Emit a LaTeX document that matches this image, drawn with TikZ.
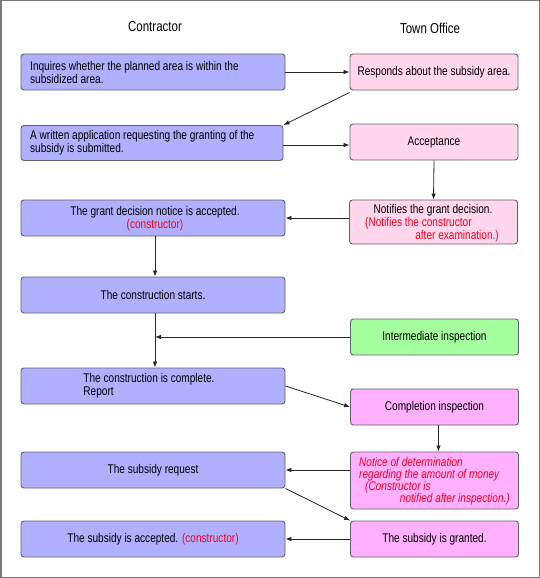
\documentclass[tikz,border=0pt]{standalone}
\usepackage{fontspec}
\setmainfont{Liberation Sans}[FakeStretch=0.8]
\usetikzlibrary{arrows.meta,calc}
\definecolor{lblue}{RGB}{176,176,255}
\definecolor{lpink}{RGB}{255,214,236}
\definecolor{mpink}{RGB}{255,176,255}
\definecolor{lgreen}{RGB}{166,255,158}
\definecolor{bord}{RGB}{100,96,112}
\definecolor{myred}{RGB}{240,0,30}
\definecolor{framegray}{RGB}{120,120,120}
\begin{document}
\begin{tikzpicture}[x=1pt,y=-1pt,
  every node/.style={font=\fontsize{12.6}{13}\selectfont, inner sep=0pt},
  box/.style={draw=bord, line width=0.9pt, rounded corners=3pt},
  lbox/.style={box, fill=lblue, minimum width=264pt, minimum height=36pt},
  rbox/.style={box, minimum width=168pt, minimum height=36pt},
  title/.style={font=\fontsize{14.4}{16}\selectfont},
  arr/.style={draw=black!85, line width=0.8pt, -{Latex[length=6pt,width=4.5pt]}},
  rtxt/.style={text=myred},
  ritx/.style={text=myred, font=\fontsize{12.6}{13}\selectfont\itshape}
]
\useasboundingbox (0,0) rectangle (540,578);
\draw[framegray, line width=1.5pt] (0.75,0.75) rectangle (539.25,577.25);

% titles
\node[title] (tc) at (155,27) {Contractor};
\node[title] (tt) at (430,28) {Town Office};

% left column
\node[lbox] (L1) at (153,72) {};
\node[anchor=west, align=left] (t1) at (30,72.5) {Inquires whether the planned area is within the\\subsidized area.};
\node[lbox, minimum width=262pt, minimum height=35pt] (L2) at (152,143) {};
\node[anchor=west, align=left] (t2) at (30,142.5) {A written application requesting the granting of the\\subsidy is submitted.};
\node[lbox] (L3) at (153,218) {};
\node[align=center] (t3) at (155,219) {The grant decision notice is accepted.\\\textcolor{myred}{(constructor)}};
\node[lbox] (L4) at (153,295) {The construction starts.};
\node[lbox] (L5) at (153,386) {};
\node[align=left] (t5) at (149,386) {The construction is complete.\\Report};
\node[lbox] (L6) at (153,470) {The subsidy request};
\node[lbox] (L7) at (153,539) {The subsidy is accepted. \textcolor{myred}{(constructor)}};

% right column
\node[rbox, fill=lpink] (R1) at (434,72) {Responds about the subsidy area.};
\node[rbox, fill=lpink] (R2) at (434,142) {Acceptance};
\node[rbox, fill=lpink, minimum height=44pt] (R3) at (433.5,222) {};
\node[anchor=base] (r3a) at (433,213) {Notifies the grant decision.};
\node[anchor=base west, rtxt] (r3b) at (365,226) {(Notifies the constructor};
\node[anchor=base east, rtxt] (r3c) at (499,239) {after examination.)};
\node[rbox, fill=lgreen] (G) at (434.5,337) {Intermediate inspection};
\node[rbox, fill=mpink] (C) at (434.5,407) {Completion inspection};
\node[rbox, fill=mpink, minimum height=57pt] (N) at (434.5,480.5) {};
\node[anchor=base west, ritx] (n1) at (359,466.5) {Notice of determination};
\node[anchor=base west, ritx] (n2) at (359,478.5) {regarding the amount of money};
\node[anchor=base west, ritx] (n3) at (365,490.5) {(Constructor is};
\node[anchor=base east, ritx] (n4) at (510,502.5) {notified after inspection.)};
\node[rbox, fill=mpink] (Gr) at (434.5,539) {The subsidy is granted.};

% connectors
\coordinate (j1) at ($(L4.south)!0.5!(L5.north)$);
\coordinate (jg) at (j1 |- G.west);
\draw[arr] (L1.east) -- (R1.west);
\draw[arr] ([yshift=-2pt]R1.south west) -- (L2.north east);
\draw[arr] ([yshift=-2pt]L2.east) -- ([yshift=-2pt]L2.east -| R2.west);
\draw[arr] (R2.south) -- (R3.north);
\draw[arr] (R3.west |- L3.east) -- (L3.east);
\draw[arr] ([xshift=2pt]L3.south) -- ([xshift=2pt]L4.north);
\draw[arr] ([xshift=2pt]L4.south) -- ([xshift=2pt]L5.north);
\draw[arr] (G.west) -- ([xshift=2pt]jg);
\draw[arr] (L5.east) -- (C.west);
\draw[arr] ([xshift=4pt]C.south) -- ([xshift=4pt]C.south |- N.north);
\draw[arr] (N.west |- L6.east) -- (L6.east);
\draw[arr] (L6.south east) -- (Gr.north west);
\draw[arr] (Gr.west) -- (L7.east);
\end{tikzpicture}
\end{document}
